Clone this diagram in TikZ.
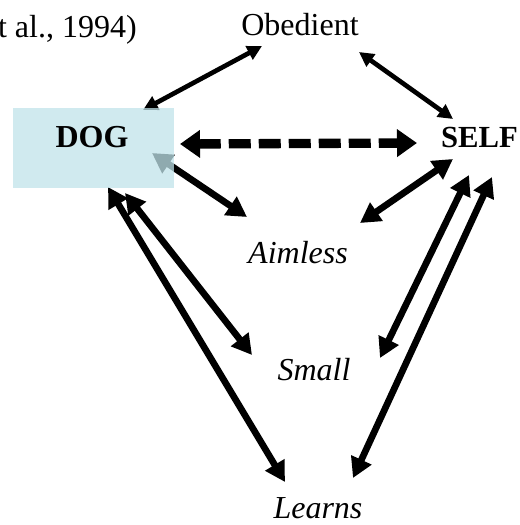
\documentclass[tikz,border=0pt]{standalone}
\usepackage{fontspec}
\setmainfont{Liberation Serif}
\usetikzlibrary{arrows.meta}
\pgfdeclarelayer{bg}
\pgfdeclarelayer{fg}
\pgfsetlayers{bg,main,fg}
\definecolor{boxblue}{RGB}{192,227,234}
\begin{document}
\begin{tikzpicture}[x=0.75pt,y=-0.75pt,
  lbl/.style={inner sep=0pt,anchor=base,font=\fontsize{24}{29}\selectfont},
  thin2/.style={line width=3.5pt,{Triangle[length=11pt,width=11pt]}-{Triangle[length=11pt,width=11pt]}},
  thick2/.style={line width=5pt,{Triangle[length=15pt,width=16pt]}-{Triangle[length=15pt,width=16pt]}},
  dash2/.style={line width=7pt,dash pattern=on 16.5pt off 6pt,{Triangle[length=15pt,width=20pt]}-{Triangle[length=15pt,width=20pt]}},
  boxstyle/.style={fill=boxblue,fill opacity=0.75,inner sep=0pt,minimum width=120.75pt,minimum height=60pt}]
\useasboundingbox (0,0) rectangle (520,525);
% box
\node[boxstyle] (dogbox) at (93.5,148) {};
% labels
\begin{pgfonlayer}{fg}
\node[lbl,font=\fontsize{24}{29}\selectfont\bfseries] (dog) at (92,147) {DOG};
\end{pgfonlayer}
\node[lbl,anchor=base east] (cite) at (137,37) {t al., 1994)};
\node[lbl] (obedient) at (300,35) {Obedient};
\node[lbl,anchor=base east,font=\fontsize{23}{28}\selectfont\bfseries] (self) at (518,147) {SELF};
\node[lbl,font=\fontsize{24}{29}\selectfont\itshape] (aimless) at (298,263) {Aimless};
\node[lbl,font=\fontsize{24}{29}\selectfont\itshape] (small) at (314,380) {Small};
\node[lbl,font=\fontsize{24}{29}\selectfont\itshape] (learns) at (318,518) {Learns};
% connector ends
\coordinate (dO) at (143,110);  \coordinate (oD) at (262,46);
\coordinate (oS) at (359,52);   \coordinate (sO) at (453,119);
\coordinate (dS) at (180,144);  \coordinate (sD) at (417,143);
\coordinate (dA) at (152,153);  \coordinate (aD) at (247,217);
\coordinate (sA) at (453,159);  \coordinate (aS) at (360,223);
\coordinate (dSm) at (125,193); \coordinate (smD) at (252,355);
\coordinate (dL) at (108,187);  \coordinate (lD) at (285,482);
\coordinate (sSm) at (469,175); \coordinate (smS) at (380,358);
\coordinate (sL) at (492,177);  \coordinate (lS) at (353,478);
\begin{pgfonlayer}{bg}
\draw[thin2] (dO) -- (oD);
\draw[thin2] (oS) -- (sO);
\draw[dash2] (dS) -- (sD);
\draw[thick2] (dA) -- (aD);
\draw[thick2] (sA) -- (aS);
\draw[thick2] (dSm) -- (smD);
\draw[thick2] (dL) -- (lD);
\draw[thick2] (sSm) -- (smS);
\draw[thick2] (sL) -- (lS);
\end{pgfonlayer}
\end{tikzpicture}
\end{document}
